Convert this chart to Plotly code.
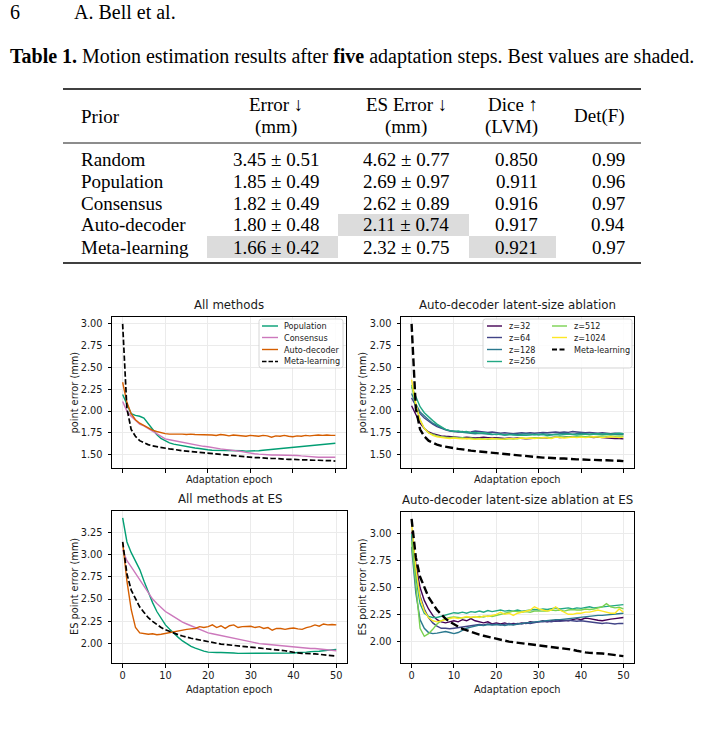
import plotly.graph_objects as go

W, H = 702, 734

# ---------------- data ----------------
EPOCHS = list(range(51))
XTICKS = [0, 10, 20, 30, 40, 50]
YTICKS_TOP = [1.50, 1.75, 2.00, 2.25, 2.50, 2.75, 3.00]
YTICKS_BL = [2.00, 2.25, 2.50, 2.75, 3.00, 3.25]
YTICKS_BR = [2.00, 2.25, 2.50, 2.75, 3.00]

METHODS = ["Population", "Consensus", "Auto-decoder", "Meta-learning"]
Z_LABELS = ["z=32", "z=64", "z=128", "z=256", "z=512", "z=1024"]

pop_err = [2.19, 2.07, 1.97, 1.95, 1.94, 1.92, 1.86, 1.79, 1.73, 1.685,
           1.655, 1.635, 1.62, 1.61, 1.60, 1.59, 1.58, 1.575, 1.57, 1.56,
           1.555, 1.55, 1.55, 1.545, 1.545, 1.545, 1.545, 1.545, 1.545, 1.54,
           1.54, 1.545, 1.545, 1.55, 1.555, 1.56, 1.565, 1.57, 1.57, 1.575,
           1.58, 1.585, 1.59, 1.595, 1.60, 1.605, 1.61, 1.615, 1.62, 1.625,
           1.63]
cons_err = [2.11, 2.00, 1.94, 1.89, 1.85, 1.83, 1.80, 1.77, 1.735, 1.705,
            1.68, 1.67, 1.66, 1.65, 1.64, 1.63, 1.62, 1.61, 1.60, 1.595,
            1.59, 1.58, 1.575, 1.565, 1.56, 1.555, 1.55, 1.545, 1.535, 1.525,
            1.515, 1.51, 1.505, 1.50, 1.50, 1.495, 1.495, 1.495, 1.495, 1.495,
            1.495, 1.49, 1.485, 1.48, 1.475, 1.47, 1.47, 1.47, 1.47, 1.47,
            1.47]
ad_err = [2.33, 2.10, 1.97, 1.90, 1.86, 1.83, 1.80, 1.78, 1.765, 1.75,
          1.74, 1.735, 1.735, 1.74, 1.735, 1.73, 1.735, 1.73, 1.73, 1.725,
          1.73, 1.725, 1.72, 1.73, 1.725, 1.715, 1.725, 1.72, 1.72, 1.71,
          1.72, 1.715, 1.71, 1.72, 1.715, 1.70, 1.715, 1.71, 1.72, 1.71,
          1.705, 1.715, 1.71, 1.72, 1.715, 1.72, 1.725, 1.72, 1.725, 1.72,
          1.72]
meta_err = [3.00, 2.03, 1.79, 1.71, 1.66, 1.635, 1.615, 1.60, 1.59, 1.58,
            1.57, 1.565, 1.56, 1.55, 1.545, 1.54, 1.535, 1.53, 1.525, 1.52,
            1.515, 1.51, 1.505, 1.50, 1.50, 1.495, 1.49, 1.485, 1.48, 1.475,
            1.47, 1.465, 1.465, 1.46, 1.46, 1.455, 1.455, 1.45, 1.45, 1.445,
            1.445, 1.44, 1.44, 1.44, 1.435, 1.435, 1.435, 1.43, 1.43, 1.43,
            1.425]

z32_err = [2.06, 1.95, 1.86, 1.80, 1.76, 1.74, 1.725, 1.715, 1.71, 1.705,
           1.70, 1.70, 1.695, 1.70, 1.695, 1.69, 1.695, 1.70, 1.695, 1.69,
           1.695, 1.69, 1.685, 1.69, 1.685, 1.69, 1.685, 1.68, 1.685, 1.69,
           1.69, 1.695, 1.69, 1.695, 1.70, 1.695, 1.70, 1.705, 1.70, 1.70,
           1.705, 1.70, 1.70, 1.695, 1.70, 1.695, 1.69, 1.69, 1.685, 1.685,
           1.68]
z64_err = [2.15, 2.05, 1.97, 1.92, 1.88, 1.85, 1.82, 1.80, 1.785, 1.77,
           1.765, 1.76, 1.765, 1.755, 1.76, 1.77, 1.765, 1.76, 1.755, 1.76,
           1.75, 1.745, 1.75, 1.745, 1.74, 1.745, 1.75, 1.745, 1.75, 1.745,
           1.75, 1.755, 1.75, 1.755, 1.76, 1.755, 1.76, 1.755, 1.765, 1.76,
           1.755, 1.75, 1.755, 1.75, 1.745, 1.75, 1.745, 1.74, 1.745, 1.74,
           1.74]
z128_err = [2.20, 2.08, 1.99, 1.94, 1.90, 1.86, 1.83, 1.81, 1.79, 1.775,
            1.77, 1.76, 1.755, 1.75, 1.745, 1.74, 1.745, 1.74, 1.735, 1.73,
            1.735, 1.73, 1.725, 1.73, 1.735, 1.73, 1.735, 1.74, 1.735, 1.73,
            1.735, 1.74, 1.735, 1.73, 1.735, 1.74, 1.745, 1.74, 1.735, 1.74,
            1.745, 1.74, 1.735, 1.74, 1.735, 1.73, 1.735, 1.73, 1.735, 1.73,
            1.73]
z256_err = [2.28, 2.16, 2.05, 1.98, 1.93, 1.89, 1.85, 1.82, 1.79, 1.775,
            1.765, 1.77, 1.76, 1.765, 1.75, 1.755, 1.745, 1.75, 1.74, 1.735,
            1.73, 1.735, 1.725, 1.73, 1.725, 1.72, 1.725, 1.72, 1.725, 1.73,
            1.725, 1.73, 1.72, 1.725, 1.73, 1.725, 1.73, 1.735, 1.73, 1.725,
            1.73, 1.735, 1.73, 1.735, 1.74, 1.735, 1.74, 1.735, 1.74, 1.745,
            1.74]
z512_err = [2.30, 2.05, 1.90, 1.80, 1.75, 1.73, 1.715, 1.705, 1.70, 1.695,
            1.70, 1.69, 1.695, 1.685, 1.69, 1.68, 1.685, 1.68, 1.675, 1.68,
            1.685, 1.68, 1.675, 1.68, 1.685, 1.68, 1.69, 1.685, 1.69, 1.695,
            1.69, 1.695, 1.70, 1.695, 1.70, 1.705, 1.70, 1.705, 1.70, 1.705,
            1.71, 1.705, 1.71, 1.705, 1.71, 1.715, 1.71, 1.715, 1.71, 1.715,
            1.71]
z1024_err = [2.36, 2.08, 1.90, 1.80, 1.75, 1.72, 1.705, 1.695, 1.69, 1.685,
             1.69, 1.685, 1.68, 1.685, 1.68, 1.675, 1.68, 1.675, 1.68, 1.685,
             1.68, 1.675, 1.68, 1.685, 1.68, 1.685, 1.69, 1.685, 1.69, 1.685,
             1.69, 1.695, 1.69, 1.685, 1.70, 1.695, 1.69, 1.695, 1.70, 1.695,
             1.70, 1.695, 1.70, 1.705, 1.70, 1.695, 1.70, 1.705, 1.70, 1.695,
             1.70]

pop_es = [3.41, 3.14, 3.02, 2.93, 2.83, 2.70, 2.57, 2.46, 2.36, 2.28,
          2.21, 2.16, 2.11, 2.07, 2.03, 2.00, 1.97, 1.95, 1.93, 1.915,
          1.905, 1.90, 1.90, 1.90, 1.90, 1.895, 1.895, 1.89, 1.89, 1.89,
          1.89, 1.89, 1.89, 1.89, 1.89, 1.89, 1.89, 1.89, 1.895, 1.895,
          1.895, 1.90, 1.90, 1.905, 1.91, 1.91, 1.915, 1.92, 1.925, 1.93,
          1.935]
cons_es = [3.05, 2.93, 2.86, 2.79, 2.72, 2.65, 2.57, 2.50, 2.45, 2.40,
           2.36, 2.33, 2.30, 2.27, 2.24, 2.22, 2.20, 2.18, 2.16, 2.14,
           2.12, 2.11, 2.10, 2.09, 2.075, 2.065, 2.055, 2.045, 2.035, 2.025,
           2.015, 2.01, 2.00, 1.995, 1.99, 1.985, 1.98, 1.975, 1.97, 1.965,
           1.96, 1.96, 1.955, 1.95, 1.945, 1.945, 1.94, 1.935, 1.93, 1.925,
           1.92]
ad_es = [3.13, 2.70, 2.38, 2.18, 2.12, 2.11, 2.105, 2.11, 2.10, 2.105,
         2.115, 2.125, 2.13, 2.14, 2.15, 2.16, 2.165, 2.17, 2.19, 2.18,
         2.19, 2.21, 2.18, 2.20, 2.17, 2.20, 2.21, 2.18, 2.19, 2.19,
         2.195, 2.18, 2.19, 2.17, 2.18, 2.15, 2.17, 2.17, 2.16, 2.17,
         2.175, 2.165, 2.16, 2.18, 2.19, 2.21, 2.195, 2.22, 2.21, 2.215,
         2.21]
meta_es = [3.14, 2.78, 2.60, 2.50, 2.41, 2.35, 2.29, 2.25, 2.21, 2.18,
           2.155, 2.135, 2.115, 2.10, 2.085, 2.07, 2.06, 2.05, 2.04, 2.03,
           2.02, 2.01, 2.00, 1.995, 1.99, 1.985, 1.98, 1.975, 1.97, 1.965,
           1.96, 1.955, 1.955, 1.95, 1.945, 1.94, 1.935, 1.93, 1.92, 1.91,
           1.90, 1.895, 1.89, 1.89, 1.885, 1.885, 1.88, 1.875, 1.87, 1.865,
           1.86]

z32_es = [3.02, 2.72, 2.50, 2.38, 2.30, 2.24, 2.20, 2.18, 2.17, 2.18,
          2.19, 2.18, 2.20, 2.19, 2.21, 2.19, 2.18, 2.17, 2.18, 2.16,
          2.17, 2.16, 2.17, 2.155, 2.165, 2.16, 2.17, 2.165, 2.18, 2.175,
          2.18, 2.19, 2.18, 2.19, 2.185, 2.19, 2.195, 2.19, 2.20, 2.21,
          2.20, 2.215, 2.21, 2.20, 2.195, 2.19, 2.20, 2.205, 2.21, 2.215,
          2.22]
z64_es = [2.98, 2.65, 2.42, 2.30, 2.22, 2.17, 2.14, 2.12, 2.12, 2.115,
          2.12, 2.125, 2.13, 2.14, 2.145, 2.15, 2.155, 2.15, 2.16, 2.155,
          2.16, 2.15, 2.16, 2.165, 2.155, 2.165, 2.16, 2.17, 2.165, 2.175,
          2.18, 2.18, 2.185, 2.18, 2.19, 2.185, 2.19, 2.195, 2.19, 2.185,
          2.19, 2.185, 2.18, 2.175, 2.17, 2.165, 2.17, 2.165, 2.16, 2.165,
          2.165]
z128_es = [2.88, 2.45, 2.20, 2.12, 2.08, 2.07, 2.075, 2.085, 2.09, 2.08,
           2.07, 2.08, 2.10, 2.12, 2.13, 2.14, 2.15, 2.145, 2.155, 2.15,
           2.15, 2.155, 2.145, 2.155, 2.15, 2.16, 2.165, 2.17, 2.175, 2.18,
           2.185, 2.19, 2.19, 2.195, 2.20, 2.20, 2.205, 2.21, 2.215, 2.22,
           2.22, 2.225, 2.23, 2.235, 2.24, 2.24, 2.245, 2.25, 2.25, 2.255,
           2.26]
z256_es = [3.00, 2.60, 2.35, 2.26, 2.23, 2.22, 2.22, 2.23, 2.24, 2.25,
           2.265, 2.26, 2.27, 2.26, 2.275, 2.27, 2.28, 2.27, 2.285, 2.275,
           2.28, 2.29, 2.28, 2.285, 2.28, 2.29, 2.28, 2.285, 2.29, 2.295,
           2.29, 2.30, 2.295, 2.30, 2.31, 2.30, 2.305, 2.31, 2.30, 2.31,
           2.305, 2.31, 2.32, 2.31, 2.315, 2.32, 2.325, 2.33, 2.335, 2.335,
           2.34]
z512_es = [2.93, 2.55, 2.12, 2.045, 2.07, 2.11, 2.16, 2.19, 2.21, 2.22,
           2.225, 2.22, 2.215, 2.225, 2.22, 2.225, 2.23, 2.225, 2.235, 2.23,
           2.24, 2.25, 2.255, 2.27, 2.28, 2.275, 2.27, 2.275, 2.27, 2.28,
           2.28, 2.285, 2.28, 2.29, 2.285, 2.29, 2.28, 2.29, 2.295, 2.29,
           2.29, 2.30, 2.295, 2.30, 2.31, 2.32, 2.35, 2.32, 2.31, 2.315,
           2.30]
z1024_es = [3.10, 2.68, 2.40, 2.28, 2.22, 2.19, 2.18, 2.19, 2.20, 2.21,
            2.22, 2.21, 2.22, 2.23, 2.22, 2.23, 2.22, 2.235, 2.23, 2.24,
            2.25, 2.27, 2.25, 2.26, 2.24, 2.26, 2.27, 2.28, 2.29, 2.32,
            2.30, 2.29, 2.28, 2.29, 2.32, 2.29, 2.27, 2.25, 2.25, 2.26,
            2.26, 2.27, 2.27, 2.28, 2.29, 2.28, 2.27, 2.26, 2.26, 2.30,
            2.27]

# table
TABLE_HEAD1 = ["Prior", "Error ↓", "ES Error ↓", "Dice ↑", "Det(F)"]
TABLE_HEAD2 = ["", "(mm)", "(mm)", "(LVM)", ""]
TABLE_ROWS = ["Random", "Population", "Consensus", "Auto-decoder", "Meta-learning"]
ERR_COL = ["3.45 ± 0.51", "1.85 ± 0.49", "1.82 ± 0.49", "1.80 ± 0.48", "1.66 ± 0.42"]
ES_COL = ["4.62 ± 0.77", "2.69 ± 0.97", "2.62 ± 0.89", "2.11 ± 0.74", "2.32 ± 0.75"]
DICE_COL = ["0.850", "0.911", "0.916", "0.917", "0.921"]
DET_COL = ["0.99", "0.96", "0.97", "0.94", "0.97"]

# ---------------- styling ----------------
C_METHODS = ["#029e73", "#cc78bc", "#d55e00", "black"]
C_Z = ["#440154", "#414487", "#2a788e", "#22a884", "#7ad151", "#fde725"]
SANS = "DejaVu Sans"
SERIF = "Liberation Serif"
TXT = "#1a1a1a"


def fx(x):
    return x / W


def fy(y):
    return 1 - y / H


fig = go.Figure()

SOLID_W = 1.4


def add(x, y, xa, ya, color, dash=None, width=SOLID_W, name=""):
    fig.add_trace(go.Scatter(x=x, y=y, xaxis=xa, yaxis=ya, mode="lines", name=name,
                             line=dict(color=color, width=width, dash=dash),
                             showlegend=False, hoverinfo="skip"))


DASH_L = "5.5px,2.4px"
DASH_R = "8px,3.5px"

# top-left
for s, c, n in zip([pop_err, cons_err, ad_err], C_METHODS[:3], METHODS[:3]):
    add(EPOCHS, s, "x", "y", c, name=n)
add(EPOCHS, meta_err, "x", "y", "black", DASH_L, 1.7, "Meta-learning")
# top-right
for s, c, n in zip([z32_err, z64_err, z128_err, z256_err, z512_err, z1024_err], C_Z, Z_LABELS):
    add(EPOCHS, s, "x2", "y2", c, name=n)
add(EPOCHS, meta_err, "x2", "y2", "black", DASH_R, 2.4, "Meta-learning")
# bottom-left
for s, c, n in zip([pop_es, cons_es, ad_es], C_METHODS[:3], METHODS[:3]):
    add(EPOCHS, s, "x3", "y3", c, name=n)
add(EPOCHS, meta_es, "x3", "y3", "black", DASH_L, 1.7, "Meta-learning")
# bottom-right
for s, c, n in zip([z32_es, z64_es, z128_es, z256_es, z512_es, z1024_es], C_Z, Z_LABELS):
    add(EPOCHS, s, "x4", "y4", c, name=n)
add(EPOCHS, meta_es, "x4", "y4", "black", DASH_R, 2.4, "Meta-learning")


def auto_range(vals):
    lo, hi = min(vals), max(vals)
    pad = 0.05 * (hi - lo)
    return [lo - pad, hi + pad]


def axis(domain, rng, tickvals, showlabels=True, fmt=None, anchor=None, standoff=3):
    d = dict(domain=domain, range=rng, tickmode="array", tickvals=tickvals,
             showticklabels=showlabels, showline=True, mirror=True,
             linecolor="black", linewidth=1, ticks="outside", ticklen=3.5,
             tickwidth=0.8, tickcolor="black", showgrid=True, gridcolor="#ebebeb",
             gridwidth=0.8, zeroline=False, ticklabelstandoff=standoff,
             tickfont=dict(family=SANS, size=9.8, color=TXT), anchor=anchor)
    if fmt:
        d["tickformat"] = fmt
    return d


xr = auto_range(EPOCHS)
top_vals = pop_err + cons_err + ad_err + meta_err
tr_vals = z32_err + z64_err + z128_err + z256_err + z512_err + z1024_err + meta_err
bl_vals = pop_es + cons_es + ad_es + meta_es
br_vals = z32_es + z64_es + z128_es + z256_es + z512_es + z1024_es + meta_es

TL = (112, 346, 317, 468)
TR = (401, 634, 317, 468)
BL = (112, 347, 511, 663)
BR = (401, 634, 512, 663)


def dx(b):
    return [fx(b[0]), fx(b[1])]


def dy(b):
    return [fy(b[3]), fy(b[2])]


fig.update_layout(
    xaxis=axis(dx(TL), xr, XTICKS, False, anchor="y"),
    yaxis=axis(dy(TL), auto_range(top_vals), YTICKS_TOP, True, ".2f", anchor="x"),
    xaxis2=axis(dx(TR), xr, XTICKS, False, anchor="y2"),
    yaxis2=axis(dy(TR), auto_range(tr_vals), YTICKS_TOP, True, ".2f", anchor="x2"),
    xaxis3=axis(dx(BL), xr, XTICKS, True, anchor="y3", standoff=0),
    yaxis3=axis(dy(BL), auto_range(bl_vals), YTICKS_BL, True, ".2f", anchor="x3"),
    xaxis4=axis(dx(BR), xr, XTICKS, True, anchor="y4", standoff=0),
    yaxis4=axis(dy(BR), auto_range(br_vals), YTICKS_BR, True, ".2f", anchor="x4"),
)

annotations = []
shapes = []


def ann(x, y, text, size, family, xanchor="center", angle=0, color="black", pad=1):
    annotations.append(dict(x=fx(x), y=fy(y), xref="paper", yref="paper", text=text,
                            showarrow=False, xanchor=xanchor, yanchor="middle",
                            textangle=angle, borderpad=pad,
                            font=dict(family=family, size=size, color=color)))


# subplot titles & axis labels
for b, t, ylab in [(TL, "All methods", "point error (mm)"),
                   (TR, "Auto-decoder latent-size ablation", "point error (mm)"),
                   (BL, "All methods at ES", "ES point error (mm)"),
                   (BR, "Auto-decoder latent-size ablation at ES", "ES point error (mm)")]:
    cx = (b[0] + b[1]) / 2
    ann(cx, b[2] - 12, t, 11.8, SANS, color=TXT)
    bottom_lab = b[3] + 11 if b in (TL, TR) else b[3] + 26
    ann(cx, bottom_lab, "Adaptation epoch", 9.8, SANS, color=TXT, pad=0)
    ann(b[0] - 38 if b[0] < 200 else b[0] - 39, (b[2] + b[3]) / 2, ylab, 9.8, SANS,
        angle=-90, color=TXT, pad=0)


def rrect(x0, y0, x1, y1, r=2.5):
    pts = (f"M {fx(x0 + r)},{fy(y0)} L {fx(x1 - r)},{fy(y0)} Q {fx(x1)},{fy(y0)} {fx(x1)},{fy(y0 + r)} "
           f"L {fx(x1)},{fy(y1 - r)} Q {fx(x1)},{fy(y1)} {fx(x1 - r)},{fy(y1)} "
           f"L {fx(x0 + r)},{fy(y1)} Q {fx(x0)},{fy(y1)} {fx(x0)},{fy(y1 - r)} "
           f"L {fx(x0)},{fy(y0 + r)} Q {fx(x0)},{fy(y0)} {fx(x0 + r)},{fy(y0)} Z")
    shapes.append(dict(type="path", path=pts, xref="paper", yref="paper",
                       line=dict(color="#cccccc", width=0.8), fillcolor="rgba(255,255,255,0.85)",
                       layer="above"))


def entry(xl0, xl1, xt, y, color, label, dash=None, width=SOLID_W):
    shapes.append(dict(type="line", xref="paper", yref="paper", x0=fx(xl0), x1=fx(xl1),
                       y0=fy(y), y1=fy(y), line=dict(color=color, width=width, dash=dash),
                       layer="above"))
    ann(xt, y, label, 8.1, SANS, xanchor="left", color=TXT, pad=0)


# legend top-left
rrect(259, 319, 343, 368)
rows = [326, 337.5, 349.5, 361.5]
for i, (lab, c) in enumerate(zip(METHODS, C_METHODS)):
    if i == 3:
        entry(262, 278, 283, rows[i], "black", lab, "4.5px,2px", 1.6)
    else:
        entry(262, 278, 283, rows[i], c, lab)

# legend top-right (two columns)
rrect(483, 319, 632, 368)
for i in range(4):
    entry(487, 502, 507.5, rows[i], C_Z[i], Z_LABELS[i])
for i in range(2):
    entry(552, 567, 572.5, rows[i], C_Z[4 + i], Z_LABELS[4 + i])
entry(552, 567, 572.5, rows[2], "black", "Meta-learning", "5px,2.5px", 2.2)

# ---------------- page text & table ----------------
FS = 19
FS_TOP = 20
ann(8, 12, "6", FS_TOP, SERIF, xanchor="left")
ann(72, 12, "A. Bell et al.", FS_TOP, SERIF, xanchor="left")
ann(8, 57, "<b>Table 1.</b> Motion estimation results after <b>five</b> adaptation steps. "
           "Best values are shaded.", FS_TOP, SERIF, xanchor="left")

# shaded best values
for (x0, y0, x1, y1) in [(338, 214, 469, 236), (207, 236, 338, 258), (469, 236, 556, 258)]:
    shapes.append(dict(type="rect", xref="paper", yref="paper", x0=fx(x0), x1=fx(x1),
                       y0=fy(y1), y1=fy(y0), fillcolor="#dcdcdc", line=dict(width=0),
                       layer="below"))

for y, w in [(89, 1.5), (143, 0.9), (263, 1.5)]:
    shapes.append(dict(type="line", xref="paper", yref="paper", x0=fx(63), x1=fx(641),
                       y0=fy(y), y1=fy(y), line=dict(color="black", width=w)))

COL_X = [(79, "left"), (276, "center"), (406, "center"), (540, "right"), (627, "right")]
ann(COL_X[0][0], 116, TABLE_HEAD1[0], FS, SERIF, "left")
for j in (1, 2, 3):
    ann(COL_X[j][0], 105, TABLE_HEAD1[j], FS, SERIF, COL_X[j][1])
    ann(COL_X[j][0], 127, TABLE_HEAD2[j], FS, SERIF, COL_X[j][1])
ann(COL_X[4][0], 116, TABLE_HEAD1[4], FS, SERIF, "right")

ROW_Y = [159, 181, 203, 225, 247]
for i, yv in enumerate(ROW_Y):
    for j, col in enumerate([TABLE_ROWS, ERR_COL, ES_COL, DICE_COL, DET_COL]):
        ann(COL_X[j][0], yv, col[i], FS, SERIF, COL_X[j][1])

fig.update_layout(
    width=W, height=H, margin=dict(l=0, r=0, t=0, b=0),
    paper_bgcolor="white", plot_bgcolor="white",
    showlegend=False, annotations=annotations, shapes=shapes,
)

fig.write_html("out.html")
